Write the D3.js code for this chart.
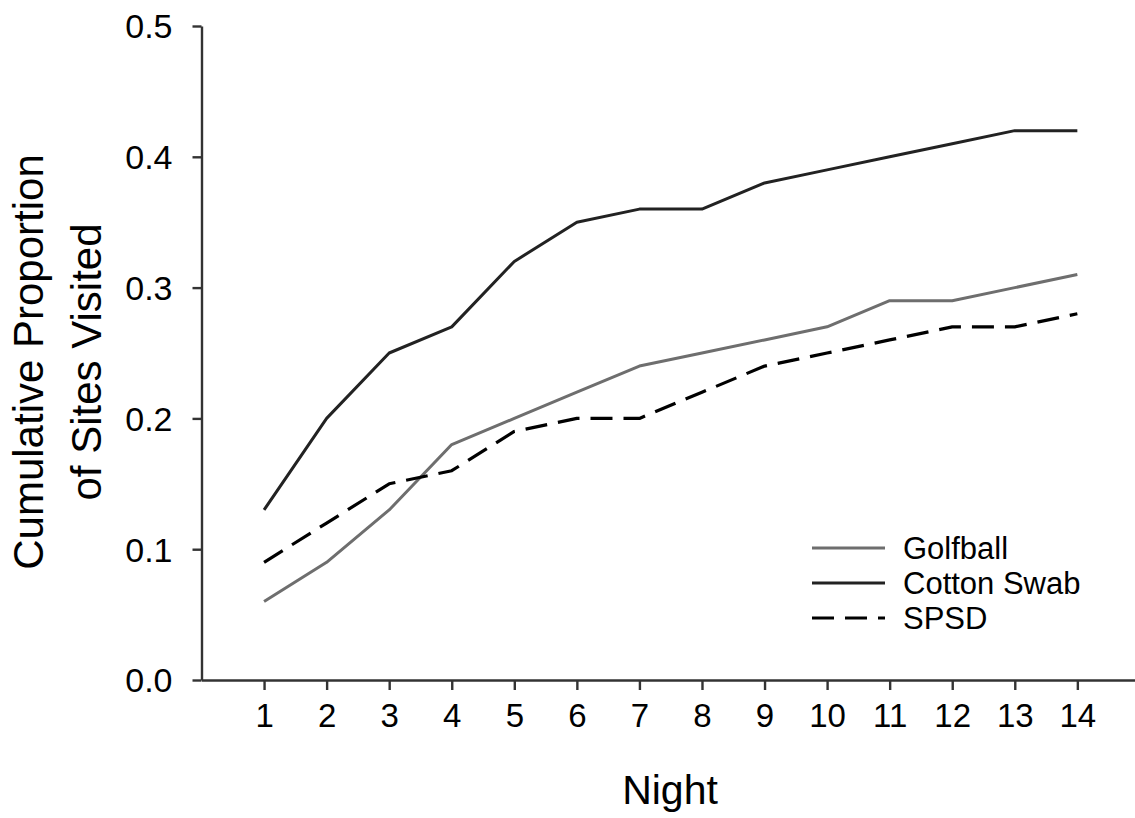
<!DOCTYPE html>
<html>
<head>
<meta charset="utf-8">
<script src="https://cdn.jsdelivr.net/npm/d3@7"></script>
<style>
  html, body { margin: 0; padding: 0; background: #fff; }
  svg { display: block; font-family: "Liberation Sans", Arial, sans-serif; }
</style>
</head>
<body>
<svg id="chart" width="1135" height="818"></svg>
<script>
const nights = [1, 2, 3, 4, 5, 6, 7, 8, 9, 10, 11, 12, 13, 14];
const golfball = [0.06, 0.09, 0.13, 0.18, 0.20, 0.22, 0.24, 0.25, 0.26, 0.27, 0.29, 0.29, 0.30, 0.31];
const cottonSwab = [0.13, 0.20, 0.25, 0.27, 0.32, 0.35, 0.36, 0.36, 0.38, 0.39, 0.40, 0.41, 0.42, 0.42];
const spsd = [0.09, 0.12, 0.15, 0.16, 0.19, 0.20, 0.20, 0.22, 0.24, 0.25, 0.26, 0.27, 0.27, 0.28];
const yTicks = [0.0, 0.1, 0.2, 0.3, 0.4, 0.5];
const seriesNames = ["Golfball", "Cotton Swab", "SPSD"];

const series = [
  { name: seriesNames[0], values: golfball, color: "#6e6e6e", dash: null, width: 3 },
  { name: seriesNames[1], values: cottonSwab, color: "#222222", dash: null, width: 3 },
  { name: seriesNames[2], values: spsd, color: "#000000", dash: "22,11", width: 3.2 }
];

const svg = d3.select("#chart");
const x = d3.scaleLinear().domain([0, 15]).range([201.5, 1139.9]);
const y = d3.scaleLinear().domain([0, 0.5]).range([680, 26]);

const axisColor = "#333";

// Y axis
const yAxis = svg.append("g").attr("transform", `translate(${x(0)},0)`)
  .call(d3.axisLeft(y).tickValues(yTicks).tickFormat(d3.format(".1f")).tickSizeOuter(0).tickSizeInner(9).tickPadding(20));
yAxis.select(".domain").attr("stroke", axisColor).attr("stroke-width", 2.4);
yAxis.selectAll(".tick line").attr("stroke", axisColor).attr("stroke-width", 2.4);
yAxis.selectAll(".tick text").attr("fill", "#000").style("font-size", "34px").attr("dy", "0.35em");

// X axis
const xAxis = svg.append("g").attr("transform", `translate(0,${y(0)})`)
  .call(d3.axisBottom(x).tickValues(nights).tickFormat(d3.format("d")).tickSizeOuter(0).tickSizeInner(10).tickPadding(14));
xAxis.select(".domain").attr("stroke", axisColor).attr("stroke-width", 2.4);
xAxis.selectAll(".tick line").attr("stroke", axisColor).attr("stroke-width", 2.4);
xAxis.selectAll(".tick text").attr("fill", "#000").style("font-size", "33px");

// Lines
const line = d3.line().x((d, i) => x(nights[i])).y(d => y(d));
series.forEach(s => {
  svg.append("path")
    .datum(s.values)
    .attr("fill", "none")
    .attr("stroke", s.color)
    .attr("stroke-width", s.width)
    .attr("stroke-dasharray", s.dash)
    .attr("stroke-linejoin", "round")
    .attr("d", line);
});

// Legend
const legend = svg.append("g");
series.forEach((s, i) => {
  const ly = 548 + i * 35;
  legend.append("line")
    .attr("x1", 812).attr("x2", 885).attr("y1", ly).attr("y2", ly)
    .attr("stroke", s.color).attr("stroke-width", s.width)
    .attr("stroke-dasharray", s.dash);
  legend.append("text")
    .attr("x", 903).attr("y", ly).attr("dy", "0.35em")
    .style("font-size", "31px").attr("fill", "#000")
    .text(s.name);
});

// Axis titles
svg.append("text")
  .attr("x", 670).attr("y", 804)
  .attr("text-anchor", "middle")
  .style("font-size", "41px").attr("fill", "#000")
  .text("Night");

const yt = svg.append("text")
  .attr("transform", "translate(0,362) rotate(-90)")
  .attr("text-anchor", "middle")
  .style("font-size", "42px").attr("fill", "#000");
yt.append("tspan").attr("x", 0).attr("y", 43).text("Cumulative Proportion");
yt.append("tspan").attr("x", 0).attr("y", 101).text("of Sites Visited");
</script>
</body>
</html>
